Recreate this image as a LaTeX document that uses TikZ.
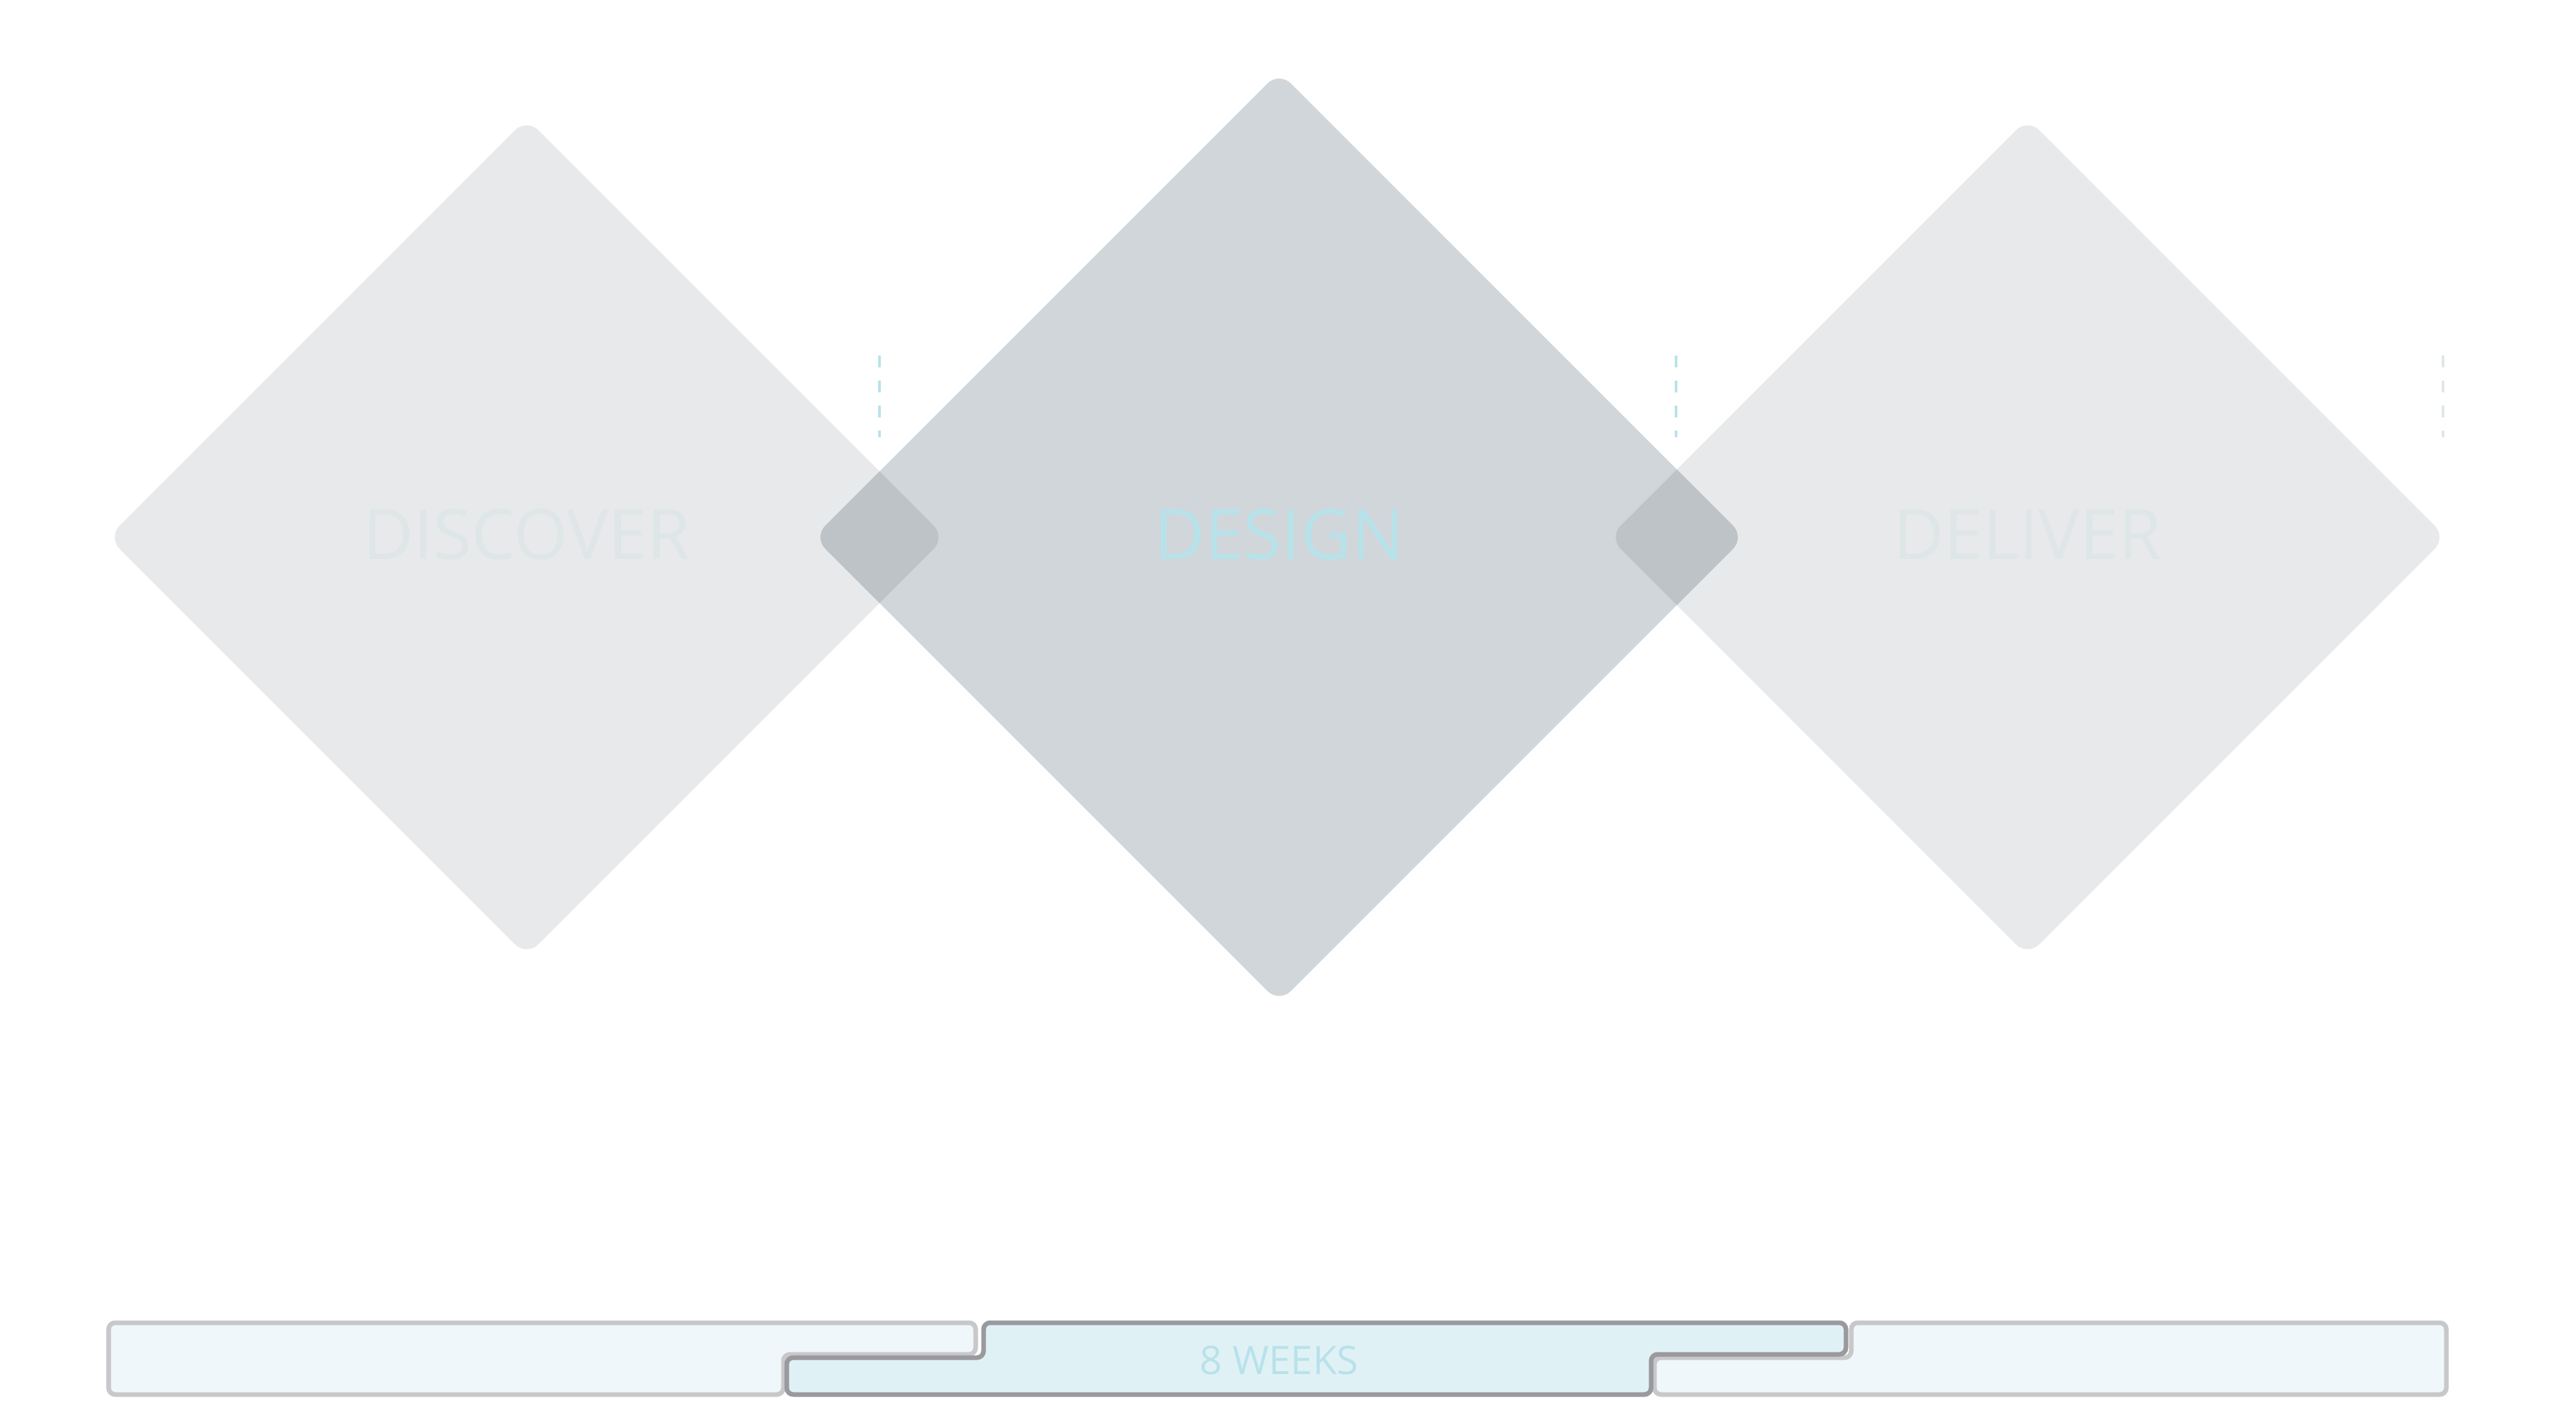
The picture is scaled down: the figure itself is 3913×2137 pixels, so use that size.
\documentclass[tikz,border=0pt]{standalone}
\usepackage{fontspec}
\setmainfont{Open Sans}
\definecolor{sidegray}{HTML}{E7E9EA}
\definecolor{midgray}{HTML}{D0D6D9}
\definecolor{overgray}{HTML}{BEC3C7}
\definecolor{faintteal}{HTML}{DFE6E8}
\definecolor{teal}{HTML}{B8E2EA}
\definecolor{barfill}{HTML}{EFF7FA}
\definecolor{barmid}{HTML}{E0F1F5}
\definecolor{barline}{HTML}{C8C8CA}
\definecolor{barlinedark}{HTML}{9A999E}
\newcommand{\rhomb}[3]{(#1-#3,#2) -- (#1,#2-#3) -- (#1+#3,#2) -- (#1,#2+#3) -- cycle}
\tikzset{
  phase/.style = {font = \fontsize{30}{30}\selectfont},
  bar/.style = {line width = 2pt, rounded corners = 0.1cm, draw = barline, fill = barfill},
  gate/.style = {teal, dashed, line width = 1.2pt, dash pattern = on 0.18cm off 0.2cm}
}
\begin{document}
\begin{tikzpicture}[x = 0.01cm, y = -0.01cm]
  \useasboundingbox (0, 0) rectangle (3913, 2137);

  \fill[sidegray, rounded corners = 0.25cm] \rhomb{800}{816}{636};
  \fill[sidegray, rounded corners = 0.25cm] \rhomb{3080}{816}{636};
  \fill[midgray, rounded corners = 0.25cm] \rhomb{1943}{816}{707};

  \begin{scope}
    \clip[rounded corners = 0.25cm] \rhomb{1943}{816}{707};
    \fill[overgray, rounded corners = 0.25cm] \rhomb{800}{816}{636};
    \fill[overgray, rounded corners = 0.25cm] \rhomb{3080}{816}{636};
  \end{scope}

  \node[phase, text = faintteal] (discover) at (800, 812) {DISCOVER};
  \node[phase, text = teal] (design) at (1943, 812) {DESIGN};
  \node[phase, text = faintteal] (deliver) at (3080, 812) {DELIVER};

  \draw[gate] (1336, 540) -- (1336, 664);
  \draw[gate] (2546, 540) -- (2546, 664);
  \draw[gate, draw = faintteal] (3711, 540) -- (3711, 664);

  % timeline
  \draw[bar] (165, 2009) -- (1482, 2009) -- (1482, 2057) -- (1190, 2057)
    -- (1190, 2118) -- (165, 2118) -- cycle;
  \draw[bar] (2812, 2009) -- (3716, 2009) -- (3716, 2118) -- (2513, 2118)
    -- (2513, 2062) -- (2812, 2062) -- cycle;
  \draw[bar, draw = barlinedark, fill = barmid] (1494, 2009) -- (2804, 2009)
    -- (2804, 2057) -- (2508, 2057) -- (2508, 2118) -- (1195, 2118)
    -- (1195, 2062) -- (1494, 2062) -- cycle;
  \node[text = teal, font = \fontsize{17}{17}\selectfont] (weeks) at (1943, 2066) {8 WEEKS};
\end{tikzpicture}
\end{document}
